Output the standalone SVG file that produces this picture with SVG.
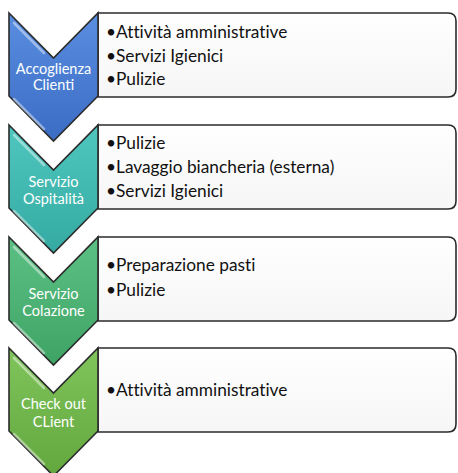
<svg xmlns="http://www.w3.org/2000/svg" width="458" height="473" viewBox="0 0 458 473">
<defs>
<linearGradient id="gBlue" x1="0" y1="0" x2="0" y2="1"><stop offset="0" stop-color="#5a8ee0"/><stop offset="1" stop-color="#3a6cc4"/></linearGradient>
<linearGradient id="gTeal" x1="0" y1="0" x2="0" y2="1"><stop offset="0" stop-color="#4fc6be"/><stop offset="1" stop-color="#34aaa2"/></linearGradient>
<linearGradient id="gGreen" x1="0" y1="0" x2="0" y2="1"><stop offset="0" stop-color="#5cc084"/><stop offset="1" stop-color="#3ea465"/></linearGradient>
<linearGradient id="gLime" x1="0" y1="0" x2="0" y2="1"><stop offset="0" stop-color="#80c45c"/><stop offset="1" stop-color="#62a83e"/></linearGradient>
<linearGradient id="gBox" x1="0" y1="0" x2="0" y2="1"><stop offset="0" stop-color="#ffffff"/><stop offset="1" stop-color="#f6f6f6"/></linearGradient>
<path id="chev" d="M9,0 L53.5,45 L98,0 L98,83 L53.5,128 L9,83 Z"/>
<path id="box" d="M98,0 H448 Q456,0 456,8 V76 Q456,84 448,84 H98 Z"/>
</defs>
<style>
.chev{stroke:#2b2b2b;stroke-width:1.6;stroke-linejoin:miter}
.hl{fill:none;stroke:#ffffff;stroke-opacity:0.45;stroke-width:2.5;stroke-linecap:round}
.box{fill:url(#gBox);stroke:#2b2b2b;stroke-width:1.6}
.lbl{font-family:Lato,"Open Sans","Liberation Sans",sans-serif;font-size:14.5px;fill:#ffffff;text-anchor:middle}
.txt{font-family:Lato,"Open Sans","Liberation Sans",sans-serif;font-size:17.3px;fill:#111111;font-variant-ligatures:none}
</style>
<rect width="458" height="473" fill="#ffffff"/>
<g id="connectors"></g>
<g id="step1" transform="translate(0,13)">
<use href="#box" class="box"/>
<use href="#chev" class="chev" fill="url(#gBlue)"/>
<path class="hl" d="M14,10 L44,40 M14,86 L44,116"/>
<text class="lbl" x="53.5" y="61">Accoglienza</text>
<text class="lbl" x="53.5" y="77">Clienti</text>
<text class="txt" x="106" y="25">•Attività amministrative</text>
<text class="txt" x="106" y="48.5">•Servizi Igienici</text>
<text class="txt" x="106" y="72">•Pulizie</text>
</g>
<g id="step2" transform="translate(0,125)">
<use href="#box" class="box"/>
<use href="#chev" class="chev" fill="url(#gTeal)"/>
<path class="hl" d="M14,10 L44,40 M14,86 L44,116"/>
<text class="lbl" x="53.5" y="62">Servizio</text>
<text class="lbl" x="53.5" y="79">Ospitalità</text>
<text class="txt" x="106" y="24">•Pulizie</text>
<text class="txt" x="106" y="48">•Lavaggio biancheria (esterna)</text>
<text class="txt" x="106" y="72">•Servizi Igienici</text>
</g>
<g id="step3" transform="translate(0,237)">
<use href="#box" class="box"/>
<use href="#chev" class="chev" fill="url(#gGreen)"/>
<path class="hl" d="M14,10 L44,40 M14,86 L44,116"/>
<text class="lbl" x="53.5" y="62">Servizio</text>
<text class="lbl" x="53.5" y="79">Colazione</text>
<text class="txt" x="106" y="34">•Preparazione pasti</text>
<text class="txt" x="106" y="59">•Pulizie</text>
</g>
<g id="step4" transform="translate(0,348)">
<use href="#box" class="box"/>
<use href="#chev" class="chev" fill="url(#gLime)"/>
<path class="hl" d="M14,10 L44,40 M14,86 L44,116"/>
<text class="lbl" x="53.5" y="61">Check out</text>
<text class="lbl" x="53.5" y="79">CLient</text>
<text class="txt" x="106" y="48">•Attività amministrative</text>
</g>
</svg>
